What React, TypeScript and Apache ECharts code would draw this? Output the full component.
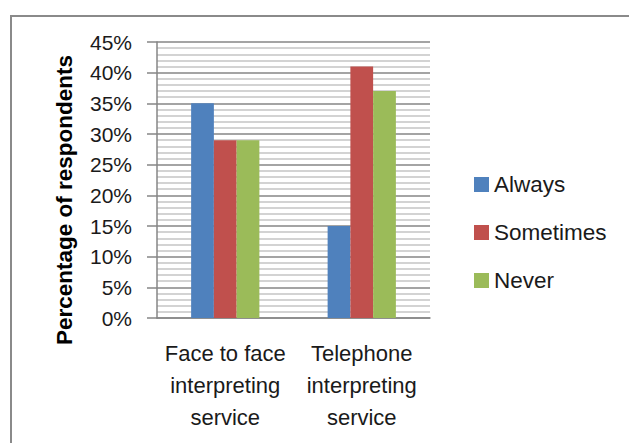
import React, { useEffect, useRef } from "react";
import * as echarts from "echarts";

const categories = ["Face to face\ninterpreting\nservice", "Telephone\ninterpreting\nservice"];
const seriesNames = ["Always", "Sometimes", "Never"];
const always = [35, 15];
const sometimes = [29, 41];
const never = [29, 37];
const colors = ["#4f81bd", "#c0504d", "#9bbb59"];
const yAxisTitle = "Percentage of respondents";

export default function App() {
  const ref = useRef<HTMLDivElement>(null);
  useEffect(() => {
    const chart = echarts.init(ref.current!, null, { renderer: "svg" });
    const font = "Liberation Sans";
    const data = [always, sometimes, never];
    chart.setOption({
      animation: false,
      backgroundColor: "#ffffff",
      textStyle: { fontFamily: font },
      graphic: [
        {
          type: "rect",
          shape: { x: 11, y: 16, width: 640, height: 460 },
          style: { fill: "none", stroke: "#8a8a8a", lineWidth: 2 },
          silent: true,
        },
        {
          type: "text",
          x: 64,
          y: 200,
          rotation: Math.PI / 2,
          style: {
            text: yAxisTitle,
            fontSize: 22.5,
            fontWeight: "bold",
            fill: "#000",
            fontFamily: font,
            align: "center",
            verticalAlign: "middle",
          },
          silent: true,
        },
      ],
      grid: { left: 157, right: 199, top: 42, bottom: 125, containLabel: false },
      legend: {
        orient: "vertical",
        left: 469,
        top: 168,
        icon: "rect",
        itemWidth: 15,
        itemHeight: 15,
        itemGap: 25,
        textStyle: { fontSize: 22.5, color: "#1a1a1a", fontFamily: font },
        data: seriesNames,
      },
      xAxis: {
        type: "category",
        data: categories,
        axisLine: { show: true, lineStyle: { color: "#868686", width: 1.5 } },
        axisTick: { show: false },
        axisLabel: {
          fontSize: 22,
          color: "#1a1a1a",
          lineHeight: 32,
          margin: 19,
          interval: 0,
          fontFamily: font,
        },
        splitLine: { show: false },
      },
      yAxis: {
        type: "value",
        min: 0,
        max: 45,
        interval: 5,
        axisLine: { show: true, lineStyle: { color: "#868686", width: 1.5 } },
        axisTick: { show: true, length: 10, lineStyle: { color: "#868686", width: 1.5 } },
        axisLabel: {
          formatter: "{value}%",
          fontSize: 21,
          color: "#1a1a1a",
          margin: 25,
          fontFamily: font,
        },
        splitLine: { show: true, lineStyle: { color: "#868686", width: 1.5 } },
        minorTick: { show: false, splitNumber: 5 },
        minorSplitLine: { show: true, lineStyle: { color: "#c4c4c4", width: 1.5 } },
      },
      series: seriesNames.map((name, i) => ({
        name,
        type: "bar",
        data: data[i],
        barGap: "0%",
        barCategoryGap: "50%",
        itemStyle: { color: colors[i] },
      })),
    });
    return () => chart.dispose();
  }, []);
  return (
    <div
      ref={ref}
      style={{ position: "fixed", left: 0, top: 0, width: 629, height: 443 }}
    />
  );
}
